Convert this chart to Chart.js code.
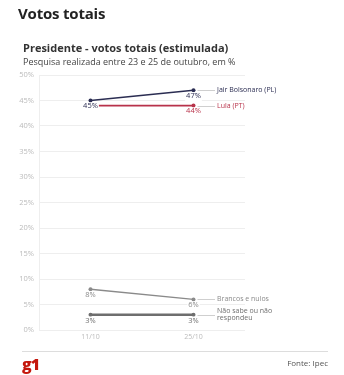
<!DOCTYPE html>
<html>
<head>
<meta charset="utf-8">
<script src="https://cdn.jsdelivr.net/npm/chart.js@4"></script>
<style>
  body { margin: 0; background: #fff; font-family: "Open Sans", sans-serif; color: #333; }
  #wrap { position: relative; width: 344px; height: 375px; overflow: hidden; }
  #grafico { position: absolute; left: 0; top: 0; }
  .txt { position: absolute; white-space: nowrap; }
  #titulo { left: 18px; top: 3px; font-size: 15px; font-weight: 700; color: #222; letter-spacing: -0.2px; }
  #sub1 { left: 23px; top: 40px; font-size: 11px; font-weight: 700; color: #333; }
  #sub2 { left: 23px; top: 55px; font-size: 9px; color: #444; }
  #linha { position: absolute; left: 22px; top: 351px; width: 306px; height: 1px; background: #ddd; }
  #logo { left: 22px; top: 353px; font-size: 16px; font-weight: 800; color: #c4170c; letter-spacing: -1px; }
  #fonte { right: 16px; top: 357px; font-size: 8px; color: #555; }
</style>
</head>
<body>
<div id="wrap">
  <canvas id="grafico" width="344" height="375"></canvas>
  <div class="txt" id="titulo">Votos totais</div>
  <div class="txt" id="sub1">Presidente - votos totais (estimulada)</div>
  <div class="txt" id="sub2">Pesquisa realizada entre 23 e 25 de outubro, em %</div>
  <div id="linha"></div>
  <div class="txt" id="logo">g1</div>
  <div class="txt" id="fonte">Fonte: Ipec</div>
</div>
<script>
var datas = ["11/10", "25/10"];
var bolsonaro = [45, 47];
var lula = [44, 44];
var brancos = [8, 6];
var naoSabe = [3, 3];
var ticksY = [0, 5, 10, 15, 20, 25, 30, 35, 40, 45, 50];

var series = [
  { nome: ["Jair Bolsonaro (PL)"], dados: bolsonaro, cor: "#2b2d52", largura: 1.6, rotulos: [true, true] },
  { nome: ["Lula (PT)"], dados: lula, cor: "#b8324a", largura: 1.8, rotulos: [false, true] },
  { nome: ["Brancos e nulos"], dados: brancos, cor: "#8a8a8a", largura: 1.4, rotulos: [true, true] },
  { nome: ["Não sabe ou não", "respondeu"], dados: naoSabe, cor: "#6e6e6e", largura: 2.4, rotulos: [true, true] }
];

var rotulosPlugin = {
  id: "rotulos",
  afterDatasetsDraw: function (chart) {
    var ctx = chart.ctx;
    ctx.save();
    // legenda a direita, com linha de ligacao
    ctx.font = "7px 'Open Sans', sans-serif";
    chart.data.datasets.forEach(function (ds, i) {
      var meta = chart.getDatasetMeta(i);
      var ult = meta.data[meta.data.length - 1];
      ctx.strokeStyle = "#cfcfcf";
      ctx.lineWidth = 1;
      ctx.beginPath();
      ctx.moveTo(ult.x + 4, Math.round(ult.y) + 0.5);
      ctx.lineTo(215, Math.round(ult.y) + 0.5);
      ctx.stroke();
      ctx.fillStyle = ds.borderColor;
      ctx.textAlign = "left";
      ctx.textBaseline = "middle";
      var nome = series[i].nome;
      var y0 = ult.y - (nome.length - 1) * 3.5;
      nome.forEach(function (n, k) { ctx.fillText(n, 217, y0 + k * 7); });
    });
    // valores abaixo dos pontos
    ctx.font = "7.5px 'Open Sans', sans-serif";
    chart.data.datasets.forEach(function (ds, i) {
      var meta = chart.getDatasetMeta(i);
      meta.data.forEach(function (p, j) {
        if (!series[i].rotulos[j]) return;
        var t = ds.data[j] + "%";
        var w = ctx.measureText(t).width;
        ctx.fillStyle = "#fff";
        ctx.fillRect(p.x - w / 2 - 1, p.y + 2, w + 2, 9);
        ctx.fillStyle = ds.borderColor;
        ctx.textAlign = "center";
        ctx.textBaseline = "top";
        ctx.fillText(t, p.x, p.y + 2);
      });
    });
    ctx.restore();
  }
};

new Chart(document.getElementById("grafico"), {
  type: "line",
  data: {
    labels: datas,
    datasets: series.map(function (s) {
      return {
        label: s.nome.join(" "),
        data: s.dados,
        borderColor: s.cor,
        backgroundColor: s.cor,
        borderWidth: s.largura,
        pointRadius: 2,
        pointBorderWidth: 0,
        fill: false,
        tension: 0
      };
    })
  },
  options: {
    responsive: false,
    animation: false,
    layout: { padding: { left: 0, right: 99, top: 75, bottom: 33 } },
    plugins: { legend: { display: false }, tooltip: { enabled: false } },
    scales: {
      x: {
        offset: true,
        grid: { display: false, drawTicks: false },
        border: { display: false },
        ticks: { color: "#bbb", font: { size: 7, family: "'Open Sans', sans-serif" }, padding: 3 },
        afterFit: function (a) { a.height = 12; }
      },
      y: {
        min: 0,
        max: 50,
        afterBuildTicks: function (a) { a.ticks = ticksY.map(function (v) { return { value: v }; }); },
        grid: { color: "#eeeeee", drawTicks: false },
        border: { color: "#eeeeee" },
        ticks: {
          color: "#bbb",
          font: { size: 7.5, family: "'Open Sans', sans-serif" },
          padding: 5,
          callback: function (v) { return v + "%"; }
        },
        afterFit: function (a) { a.width = 39; }
      }
    }
  },
  plugins: [rotulosPlugin]
});
</script>
</body>
</html>
